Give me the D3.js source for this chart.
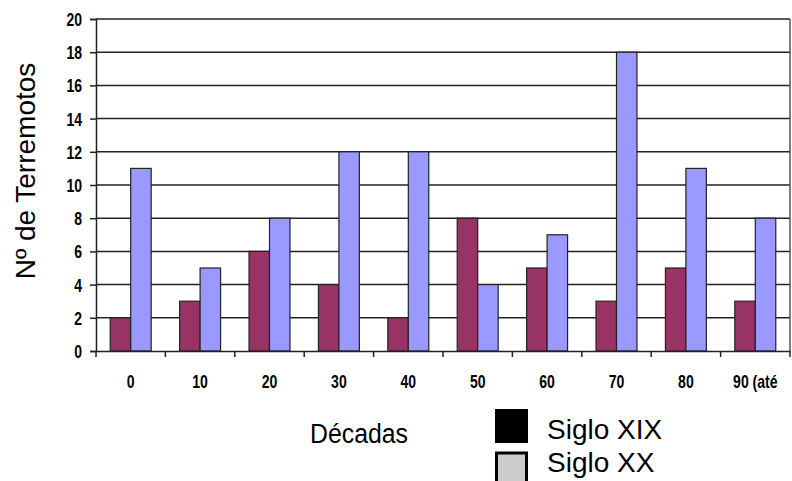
<!DOCTYPE html>
<html>
<head>
<meta charset="utf-8">
<script src="https://cdn.jsdelivr.net/npm/d3@7"></script>
<style>
  body { margin: 0; background: #fff; }
  svg { display: block; }
  .tick text { font-family: "Liberation Sans", Arial, sans-serif; font-weight: bold; font-size: 18px; fill: #000; }
</style>
</head>
<body>
<div id="chart"></div>
<script>
// decades and counts per century
var decadas = ["0", "10", "20", "30", "40", "50", "60", "70", "80", "90 (até"];
var sigloXIX = [2, 3, 6, 4, 2, 8, 5, 3, 5, 3];
var sigloXX = [11, 5, 8, 12, 12, 4, 7, 18, 11, 8];
var yTicks = [0, 2, 4, 6, 8, 10, 12, 14, 16, 18, 20];
var series = ["Siglo XIX", "Siglo XX"];

var svgWidth = 792, svgHeight = 481;
var margin = { top: 19, right: 2, bottom: 130, left: 96 };
var width = svgWidth - margin.left - margin.right;
var height = svgHeight - margin.top - margin.bottom;
var narrow = 0.78; // squeeze for the narrow tick font

var svg = d3.select("#chart").append("svg")
  .attr("width", svgWidth)
  .attr("height", svgHeight);

var chartGroup = svg.append("g")
  .attr("transform", `translate(${margin.left}, ${margin.top})`);

var x = d3.scaleBand().domain(decadas).range([0, width]);
var xInner = d3.scaleBand().domain(series)
  .range([x.bandwidth() * 0.205, x.bandwidth() * 0.795]);
var y = d3.scaleLinear().domain([0, 20]).range([height, 0]);

// gridlines
chartGroup.selectAll("line.grid")
  .data(yTicks.filter(d => d > 0))
  .enter().append("line")
  .attr("class", "grid")
  .attr("x1", 0).attr("x2", width)
  .attr("y1", d => y(d)).attr("y2", d => y(d))
  .attr("stroke", "#222").attr("stroke-width", 1.5);

// right border
chartGroup.append("line")
  .attr("x1", width).attr("x2", width)
  .attr("y1", 0).attr("y2", height)
  .attr("stroke", "#555").attr("stroke-width", 1.5);

var data = decadas.map((d, i) => ({ dec: d, vals: [sigloXIX[i], sigloXX[i]] }));
var colors = ["#993366", "#9999FF"];

var groups = chartGroup.selectAll("g.dec")
  .data(data).enter().append("g")
  .attr("transform", d => `translate(${x(d.dec)},0)`);

groups.selectAll("rect")
  .data(d => d.vals.map((v, j) => ({ s: series[j], v: v, c: colors[j] })))
  .enter().append("rect")
  .attr("x", d => xInner(d.s))
  .attr("width", xInner.bandwidth())
  .attr("y", d => y(d.v))
  .attr("height", d => height - y(d.v))
  .attr("fill", d => d.c)
  .attr("stroke", "#222").attr("stroke-width", 1.2);

// y axis
var leftAxis = d3.axisLeft(y).tickValues(yTicks).tickSize(6);
chartGroup.append("g").call(leftAxis)
  .call(g => g.select(".domain").attr("stroke", "#222").attr("stroke-width", 1.5))
  .call(g => g.selectAll(".tick line").attr("stroke", "#222").attr("stroke-width", 1.5))
  .call(g => g.selectAll(".tick text")
    .attr("x", -14 / narrow)
    .attr("dy", "0.36em")
    .attr("transform", `scale(${narrow},1)`));

// x axis: ticks at category boundaries
var bottomAxis = d3.axisBottom(x).tickSize(0);
var xAxis = chartGroup.append("g")
  .attr("transform", `translate(0, ${height})`)
  .call(bottomAxis);
xAxis.select(".domain").attr("stroke", "#222").attr("stroke-width", 1.5);
xAxis.selectAll(".tick text")
  .attr("y", 37).attr("dy", 0)
  .attr("transform", `scale(${narrow},1)`);
xAxis.selectAll("line.bound")
  .data(decadas.concat(["end"]))
  .enter().append("line")
  .attr("class", "bound")
  .attr("x1", (d, i) => i * x.step()).attr("x2", (d, i) => i * x.step())
  .attr("y1", 0).attr("y2", 6)
  .attr("stroke", "#222").attr("stroke-width", 1.5);

// axis titles
svg.append("text")
  .attr("transform", "translate(35,171) rotate(-90)")
  .attr("text-anchor", "middle")
  .style("font-family", "Liberation Sans, Arial, sans-serif")
  .style("font-size", "28px")
  .text("Nº de Terremotos");

svg.append("text")
  .attr("transform", "translate(359,443) scale(0.92,1)")
  .attr("text-anchor", "middle")
  .style("font-family", "Liberation Sans, Arial, sans-serif")
  .style("font-size", "27px")
  .text("Décadas");

// legend
var legend = svg.append("g").attr("transform", "translate(495,409)");
legend.append("rect").attr("x", 0).attr("y", 0).attr("width", 33).attr("height", 34)
  .attr("fill", "#000");
legend.append("rect").attr("x", 1.5).attr("y", 44).attr("width", 30).attr("height", 32)
  .attr("fill", "#ccc").attr("stroke", "#000").attr("stroke-width", 3);
legend.selectAll("text.leg")
  .data(series).enter().append("text")
  .attr("x", 52).attr("y", (d, i) => 30 + i * 33)
  .style("font-family", "Liberation Sans, Arial, sans-serif")
  .style("font-size", "28px")
  .text(d => d);
</script>
</body>
</html>
